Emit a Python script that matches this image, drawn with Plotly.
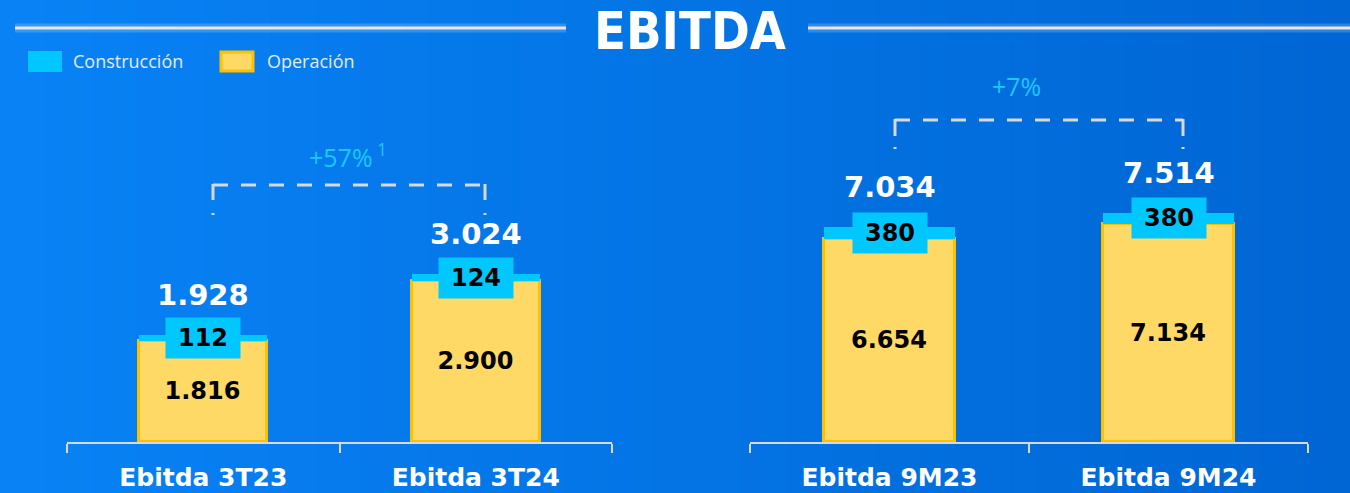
import plotly.graph_objects as go

# ---- data ----
cats_q = ["Ebitda 3T23", "Ebitda 3T24"]
op_q = [1816, 2900]
con_q = [112, 124]
cats_9m = ["Ebitda 9M23", "Ebitda 9M24"]
op_9m = [6654, 7134]
con_9m = [380, 380]
growth_q = "+57%"
growth_q_note = "1"
growth_9m = "+7%"
title_text = "EBITDA"
legend_names = ["Construcción", "Operación"]

W, H = 1350, 493
def px(x):
    return x / W
def py(y):
    return 1 - y / H

CYAN = "#00C8FF"
YELLOW = "#FFD966"
YELLOW_EDGE = "#FFC000"
GRAY = "#D9D9D9"
FONT = "DejaVu Sans"

def fmt(v):
    return f"{v:,}".replace(",", ".")

fig = go.Figure()

def add_group(cats, op, con, xa, ya):
    fig.add_trace(go.Bar(
        x=cats, y=op, name=legend_names[1], xaxis=xa, yaxis=ya,
        marker=dict(color=YELLOW, line=dict(color=YELLOW_EDGE, width=3)),
        width=0.47, text=[fmt(v) for v in op], textposition="inside",
        insidetextanchor="middle", textangle=0, constraintext="none",
        textfont=dict(family=FONT, size=24, color="black", weight="bold"),
        showlegend=False, hoverinfo="skip"))
    fig.add_trace(go.Bar(
        x=cats, y=con, name=legend_names[0], xaxis=xa, yaxis=ya,
        marker=dict(color=CYAN, line=dict(width=0)),
        width=0.47, showlegend=False, hoverinfo="skip"))

add_group(cats_q, op_q, con_q, "x", "y")
add_group(cats_9m, op_9m, con_9m, "x2", "y2")

annotations = []
for cats, op, con, xa, ya in [(cats_q, op_q, con_q, "x", "y"),
                              (cats_9m, op_9m, con_9m, "x2", "y2")]:
    for c, o, k in zip(cats, op, con):
        annotations.append(dict(
            x=c, y=o + k / 2, xref=xa, yref=ya, text=f"<b>{fmt(k)}</b>",
            showarrow=False, bgcolor=CYAN, width=74, height=40, borderpad=0,
            font=dict(family=FONT, size=24, color="black"),
            xanchor="center", yanchor="middle"))
        annotations.append(dict(
            x=c, y=o + k, xref=xa, yref=ya, text=f"<b>{fmt(o + k)}</b>",
            showarrow=False, yshift=40,
            font=dict(family=FONT, size=29, color="white"),
            xanchor="center", yanchor="middle"))

# growth labels
annotations.append(dict(
    x=px(348), y=py(155), xref="paper", yref="paper",
    text=f"{growth_q}<sup> {growth_q_note}</sup>", showarrow=False,
    font=dict(family="Open Sans", size=25, color="#1CC8FF"),
    xanchor="center", yanchor="middle"))
annotations.append(dict(
    x=px(1016), y=py(86), xref="paper", yref="paper",
    text=growth_9m, showarrow=False,
    font=dict(family="Open Sans", size=25, color="#1CC8FF"),
    xanchor="center", yanchor="middle"))

# title
annotations.append(dict(
    x=px(690), y=py(31), xref="paper", yref="paper",
    text=f"<b>{title_text}</b>", showarrow=False,
    font=dict(family="DejaVu Sans Condensed", size=52, color="white"),
    xanchor="center", yanchor="middle"))

# legend texts
annotations.append(dict(
    x=px(71), y=py(61), xref="paper", yref="paper", text=legend_names[0],
    showarrow=False, font=dict(family="Open Sans", size=18, color="#E2ECF8"),
    xanchor="left", yanchor="middle"))
annotations.append(dict(
    x=px(265), y=py(61), xref="paper", yref="paper", text=legend_names[1],
    showarrow=False, font=dict(family="Open Sans", size=18, color="#E2ECF8"),
    xanchor="left", yanchor="middle"))

shapes = []
# gradient background
N = 60
c0 = (8, 130, 245)
c1 = (0, 102, 212)
for i in range(N):
    t = i / (N - 1)
    col = tuple(round(a + (b - a) * t) for a, b in zip(c0, c1))
    shapes.append(dict(type="rect", xref="paper", yref="paper",
                       x0=i / N, x1=(i + 1) / N + 0.002, y0=0, y1=1,
                       fillcolor=f"rgb{col}", line=dict(width=0), layer="below"))

# title lines with glow
for x0, x1 in [(15, 566), (808, 1350)]:
    shapes.append(dict(type="line", xref="paper", yref="paper",
                       x0=px(x0), x1=px(x1), y0=py(28), y1=py(28),
                       line=dict(color="rgba(255,255,255,0.18)", width=9), layer="below"))
    shapes.append(dict(type="line", xref="paper", yref="paper",
                       x0=px(x0), x1=px(x1), y0=py(28), y1=py(28),
                       line=dict(color="#E6E6E6", width=3)))

# legend swatches
shapes.append(dict(type="rect", xref="paper", yref="paper",
                   x0=px(28), x1=px(62), y0=py(72), y1=py(51),
                   fillcolor=CYAN, line=dict(width=0)))
shapes.append(dict(type="rect", xref="paper", yref="paper",
                   x0=px(221), x1=px(253), y0=py(71), y1=py(52),
                   fillcolor=YELLOW, line=dict(color=YELLOW_EDGE, width=3)))

# growth brackets
for xl, xr, ytop, ystub, ytick in [(213, 485, 185, 200, 214), (895, 1183, 120, 136, 148)]:
    shapes.append(dict(type="line", xref="paper", yref="paper",
                       x0=px(xl), x1=px(xr), y0=py(ytop), y1=py(ytop),
                       line=dict(color=GRAY, width=3, dash="15px,13px")))
    for xx in (xl, xr):
        shapes.append(dict(type="line", xref="paper", yref="paper",
                           x0=px(xx), x1=px(xx), y0=py(ytop - 1), y1=py(ystub),
                           line=dict(color=GRAY, width=3)))
        shapes.append(dict(type="line", xref="paper", yref="paper",
                           x0=px(xx), x1=px(xx), y0=py(ytick - 1), y1=py(ytick + 1),
                           line=dict(color=GRAY, width=3)))

axis_common = dict(
    type="category", showgrid=False, zeroline=False, showline=True,
    linecolor=GRAY, linewidth=2, ticks="outside", tickson="boundaries",
    ticklen=9, tickwidth=2, tickcolor=GRAY, ticklabelstandoff=12,
    tickfont=dict(family=FONT, size=25, color="white", weight="bold"),
    range=[-0.5, 1.5], fixedrange=True)

base = 51 / H
fig.update_layout(
    width=W, height=H, margin=dict(l=0, r=0, t=0, b=0),
    paper_bgcolor="#0576E8", plot_bgcolor="rgba(0,0,0,0)",
    barmode="stack", bargap=0, showlegend=False,
    separators=",.",
    xaxis=dict(domain=[px(67), px(612)], anchor="y", **axis_common),
    xaxis2=dict(domain=[px(750), px(1308)], anchor="y2", **axis_common),
    yaxis=dict(domain=[base, 1], range=[0, 442 * 18.05], visible=False, fixedrange=True),
    yaxis2=dict(domain=[base, 1], range=[0, 442 * 32.75], visible=False,
                anchor="x2", fixedrange=True),
    shapes=shapes, annotations=annotations,
)

fig.write_html("out.html", config={"displayModeBar": False},
               post_script="document.body.style.margin='0';document.body.style.overflow='hidden';")
